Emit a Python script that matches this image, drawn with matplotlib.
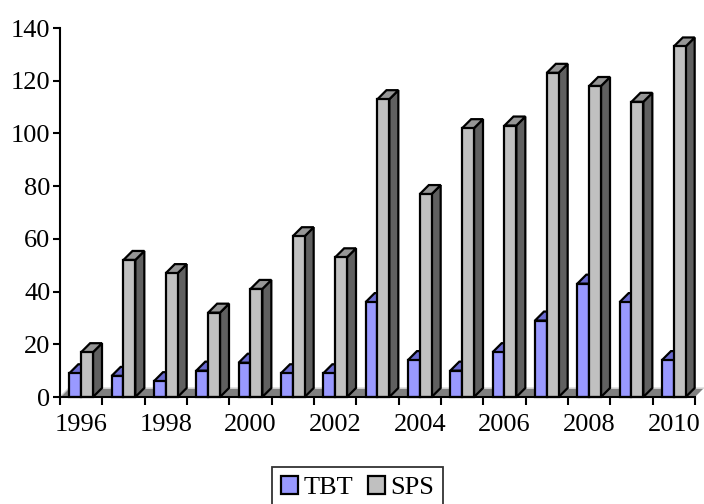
import numpy as np
import matplotlib.pyplot as plt
from matplotlib.patches import Polygon, Patch

plt.rcParams['font.family'] = ['Liberation Serif', 'DejaVu Serif']

# === DATA ===
years = list(range(1996, 2011))
tbt = [9, 8, 6, 10, 13, 9, 9, 36, 14, 10, 17, 29, 43, 36, 14]
sps = [17, 52, 47, 32, 41, 61, 53, 113, 77, 102, 103, 123, 118, 112, 133]

TBT_COLORS = ('#9999ff', '#6b6bd0', '#4d4da0')   # front, top, side
SPS_COLORS = ('#c0c0c0', '#969696', '#606060')
FLOOR = '#808080'

BAR_W = 0.28
DEPTH_PX = 9  # fake 3D depth, pixels
LW = 1.6

fig = plt.figure(figsize=(7.04, 5.04), dpi=100)
ax = fig.add_axes([0.0852, 0.2123, 0.9020, 0.7321])

n = len(years)
x = np.arange(n)
ax.set_xlim(-0.5, n - 0.5)
ax.set_ylim(0, 140)

# convert the pixel depth to data units
ax_w_px = 0.9020 * 704
ax_h_px = 0.7321 * 504
dx = DEPTH_PX * n / ax_w_px
dy = DEPTH_PX * 140 / ax_h_px


def box(ax, xl, h, colors, z):
    front, top, side = colors
    xr = xl + BAR_W
    kw = dict(edgecolor='black', linewidth=LW, joinstyle='miter', clip_on=False)
    ax.add_patch(Polygon([(xr, 0), (xr + dx, dy), (xr + dx, h + dy), (xr, h)],
                         facecolor=side, zorder=z, **kw))
    ax.add_patch(Polygon([(xl, h), (xr, h), (xr + dx, h + dy), (xl + dx, h + dy)],
                         facecolor=top, zorder=z, **kw))
    ax.add_patch(Polygon([(xl, 0), (xr, 0), (xr, h), (xl, h)],
                         facecolor=front, zorder=z + 0.5, **kw))


# floor
ax.add_patch(Polygon([(-0.5, 0), (n - 0.5, 0), (n - 0.5 + dx, dy), (-0.5 + dx, dy)],
                     facecolor=FLOOR, edgecolor='none', zorder=1, clip_on=False))
ax.plot([-0.5 + dx, n - 0.5 + dx], [dy, dy], color='#e0e0e0', lw=1.2, zorder=1.1,
        clip_on=False)
ax.plot([-0.5, -0.5 + dx], [0, dy], color='#d0d0d0', lw=1.0, zorder=1.1, clip_on=False)

for i in range(n):
    box(ax, x[i] - BAR_W, tbt[i], TBT_COLORS, 2 + i)
    box(ax, x[i], sps[i], SPS_COLORS, 2.7 + i)

# axes styling
for s in ['top', 'right']:
    ax.spines[s].set_visible(False)
for s in ['left', 'bottom']:
    ax.spines[s].set_linewidth(1.5)
    ax.spines[s].set_zorder(30)

ax.set_yticks(range(0, 141, 20))
ax.tick_params(axis='y', labelsize=19, length=5, width=1.5, direction='out', pad=2)

ax.set_xticks(np.arange(-0.5, n, 1), minor=False)
ax.set_xticklabels([])
ax.set_xticks(x[::2], minor=True)
ax.set_xticklabels([str(y) for y in years[::2]], minor=True)
ax.tick_params(axis='x', which='major', length=6, width=1.5, direction='out')
ax.tick_params(axis='x', which='minor', length=0, labelsize=19, pad=12)

handles = [Patch(facecolor=TBT_COLORS[0], edgecolor='black', linewidth=LW, label='TBT'),
           Patch(facecolor=SPS_COLORS[0], edgecolor='black', linewidth=LW, label='SPS')]
leg = fig.legend(handles=handles, loc='upper left', bbox_to_anchor=(272 / 704, 1 - 467 / 504),
                 ncol=2, fontsize=19, frameon=True, fancybox=False,
                 handlelength=0.65, handleheight=0.65, handletextpad=0.2,
                 columnspacing=0.55, borderpad=0.35, borderaxespad=0)
leg.get_frame().set_edgecolor('black')
leg.get_frame().set_linewidth(1.3)

fig.savefig('out.png', dpi=100)
